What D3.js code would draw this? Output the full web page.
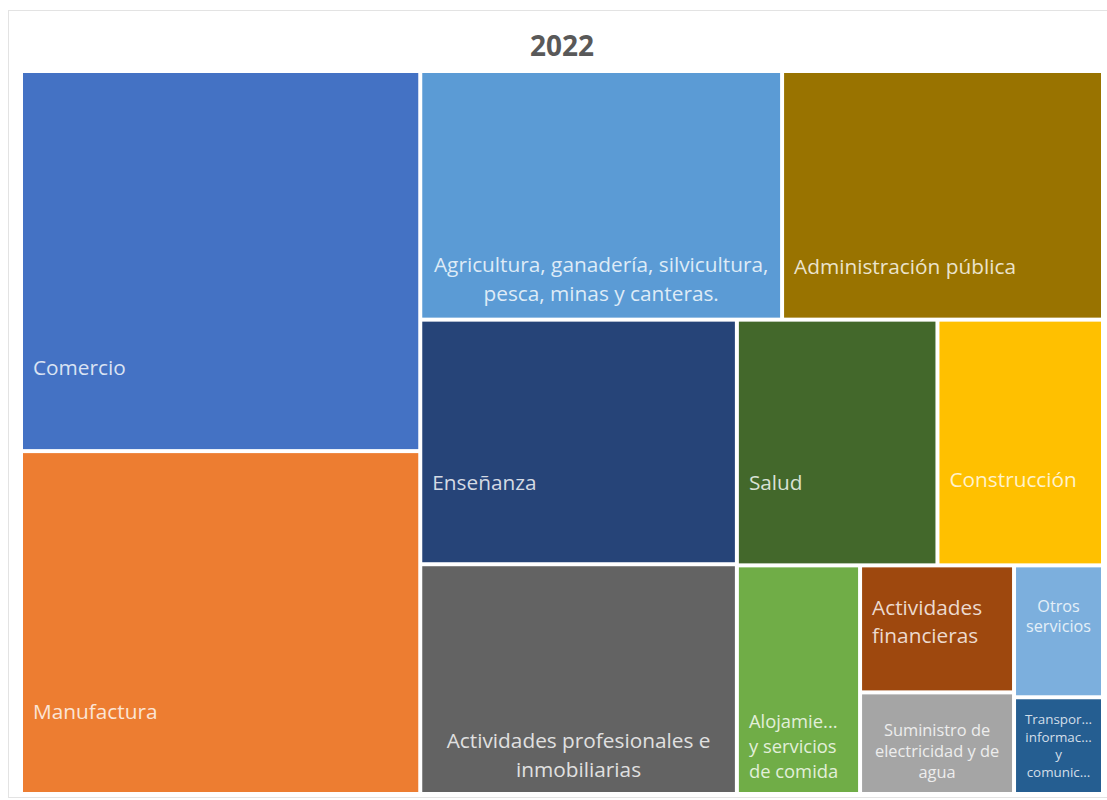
<!DOCTYPE html>
<html>
<head>
<meta charset="utf-8">
<script src="https://cdn.jsdelivr.net/npm/d3@7"></script>
<style>
    html, body { margin: 0; padding: 0; background: #fff; }
    svg { display: block; }
</style>
</head>
<body>
<svg id="chart"></svg>
<script>
const title = "2022";

const sectors = [
    "Comercio",
    "Manufactura",
    "Agricultura, ganadería, silvicultura, pesca, minas y canteras.",
    "Administración pública",
    "Enseñanza",
    "Actividades profesionales e inmobiliarias",
    "Salud",
    "Construcción",
    "Alojamiento y servicios de comida",
    "Actividades financieras",
    "Suministro de electricidad y de agua",
    "Otros servicios",
    "Transporte, información y comunicaciones"
];

const shares = [19.4, 17.5, 11.5, 10.2, 9.9, 9.3, 6.3, 5.2, 3.6, 2.5, 2.0, 1.5, 1.1];

const fills = [
    "#4472C4", "#ED7D31", "#5B9BD5", "#997300", "#264478", "#636363",
    "#43682B", "#FFC000", "#70AD47", "#9E480E", "#A5A5A5", "#7CAFDD", "#255E91"
];

// text shown in each box, line by line (Excel truncates the small ones)
const labelLines = [
    ["Comercio"],
    ["Manufactura"],
    ["Agricultura, ganadería, silvicultura,", "pesca, minas y canteras."],
    ["Administración pública"],
    ["Enseñanza"],
    ["Actividades profesionales e", "inmobiliarias"],
    ["Salud"],
    ["Construcción"],
    ["Alojamie...", "y servicios", "de comida"],
    ["Actividades", "financieras"],
    ["Suministro de", "electricidad y de", "agua"],
    ["Otros", "servicios"],
    ["Transpor...", "informac...", "y", "comunic..."]
];

// label placement: anchor, first baseline below box top, line height, font size
const labelStyle = {
    "Comercio": { anchor: "start", top: 302, lh: 0, size: 20.8 },
    "Manufactura": { anchor: "start", top: 266, lh: 0, size: 20.8 },
    "Agricultura, ganadería, silvicultura, pesca, minas y canteras.": { anchor: "middle", top: 199, lh: 29, size: 20.8 },
    "Administración pública": { anchor: "start", top: 201, lh: 0, size: 20.8 },
    "Enseñanza": { anchor: "start", top: 168, lh: 0, size: 20.8 },
    "Actividades profesionales e inmobiliarias": { anchor: "middle", top: 182, lh: 29, size: 20.8 },
    "Salud": { anchor: "start", top: 168, lh: 0, size: 20.8 },
    "Construcción": { anchor: "start", top: 165, lh: 0, size: 20.8 },
    "Alojamiento y servicios de comida": { anchor: "start", top: 161, lh: 25, size: 18.4 },
    "Actividades financieras": { anchor: "start", top: 48, lh: 28, size: 20.8 },
    "Suministro de electricidad y de agua": { anchor: "middle", top: 42, lh: 21, size: 16.4 },
    "Otros servicios": { anchor: "middle", top: 45, lh: 20, size: 16.2 },
    "Transporte, información y comunicaciones": { anchor: "middle", top: 25, lh: 17.5, size: 13.4 }
};

const width = 1107,
    height = 800,
    area = { x0: 23, y0: 73, x1: 1101, y1: 792 };

const svg = d3.select("#chart")
    .attr("width", width)
    .attr("height", height)
    .attr("viewBox", `0 0 ${width} ${height}`);

// faint chart frame
svg.append("rect")
    .attr("x", 8.5)
    .attr("y", 10.5)
    .attr("width", 1110)
    .attr("height", 787)
    .attr("fill", "#fff")
    .attr("stroke", "#e3e3e3");

svg.append("text")
    .attr("x", 562)
    .attr("y", 56)
    .attr("text-anchor", "middle")
    .style("font-family", "'Open Sans', sans-serif")
    .style("font-weight", 700)
    .style("font-size", "28px")
    .attr("fill", "#595959")
    .text(title);

const data = {
    name: title,
    children: sectors.map((s, i) => ({ name: s, value: shares[i], fill: fills[i], lines: labelLines[i] }))
};

const root = d3.hierarchy(data)
    .sum(d => d.value || 0)
    .sort((a, b) => b.value - a.value);

d3.treemap()
    .tile(d3.treemapSquarify.ratio(1))
    .size([area.x1 - area.x0, area.y1 - area.y0])
    .paddingInner(4)
    .round(false)(root);

const cells = svg.append("g")
    .attr("transform", `translate(${area.x0},${area.y0})`)
    .selectAll("g")
    .data(root.leaves())
    .enter()
    .append("g")
    .attr("transform", d => `translate(${d.x0},${d.y0})`);

cells.append("rect")
    .attr("width", d => d.x1 - d.x0)
    .attr("height", d => d.y1 - d.y0)
    .attr("fill", d => d.data.fill);

cells.append("text")
    .each(function (d) {
        const st = labelStyle[d.data.name],
            w = d.x1 - d.x0,
            x = st.anchor === "middle" ? w / 2 : 10,
            tint = d3.interpolateRgb(d.data.fill, "#fff")(0.8);

        const t = d3.select(this)
            .attr("text-anchor", st.anchor)
            .style("font-family", "'Open Sans', sans-serif")
            .style("font-size", st.size + "px")
            .attr("fill", tint);

        d.data.lines.forEach((line, i) => {
            t.append("tspan")
                .attr("x", x)
                .attr("y", st.top + i * st.lh)
                .text(line);
        });
    });
</script>
</body>
</html>
